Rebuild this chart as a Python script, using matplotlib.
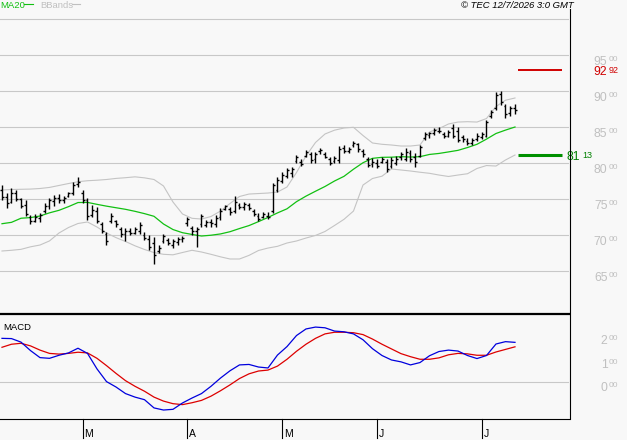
import numpy as np
import pandas as pd
import matplotlib.pyplot as plt
from matplotlib.lines import Line2D
from matplotlib.transforms import ScaledTranslation

plt.rcParams['font.family'] = ['Liberation Sans', 'DejaVu Sans']

# Trading days (Euronext calendar, Good Friday / Easter Monday / 1 May closed)
holidays = ['2026-04-03', '2026-04-06', '2026-05-01']
dates = pd.bdate_range('2026-02-05', '2026-07-10', freq='C', holidays=holidays)

# Daily OHLC
highs = [76.94, 75.83, 76.53, 76.25, 75.14, 74.86, 72.78, 72.92, 73.06, 74.44,
         75.14, 75.56, 75.69, 75.42, 75.97, 77.36, 78.06, 76.25, 75.14, 74.17,
         73.89, 71.81, 70.42, 73.06, 72.08, 71.11, 70.97, 70.97, 71.11, 71.81,
         70.42, 70.00, 69.72, 68.61, 70.14, 69.58, 69.44, 69.72, 69.86, 72.50,
         71.25, 71.11, 72.92, 72.08, 72.22, 72.78, 73.75, 74.17, 73.89, 75.42,
         74.44, 74.58, 74.44, 73.61, 73.06, 73.19, 73.19, 77.22, 78.06, 78.75,
         79.31, 79.44, 81.11, 80.56, 81.81, 81.53, 81.53, 82.08, 81.53, 80.83,
         80.97, 82.36, 82.50, 82.22, 83.06, 82.78, 81.94, 80.83, 80.69, 80.56,
         80.83, 80.56, 80.83, 80.97, 81.53, 82.08, 81.81, 81.39, 82.50, 84.31,
         84.31, 84.86, 85.00, 84.31, 84.58, 85.42, 85.00, 83.89, 83.47, 83.47,
         84.17, 84.31, 85.97, 87.36, 89.86, 90.00, 88.19, 87.92, 88.19]
lows = [74.86, 73.75, 74.44, 74.72, 73.75, 72.64, 71.53, 71.81, 71.81, 73.06,
        73.61, 74.03, 74.44, 74.44, 75.28, 75.56, 76.67, 74.44, 72.08, 72.50,
        71.67, 70.28, 68.61, 71.67, 71.11, 69.72, 69.17, 70.00, 70.14, 70.14,
        69.31, 67.92, 65.97, 67.50, 68.89, 68.61, 68.19, 68.61, 69.03, 71.25,
        70.00, 68.33, 71.11, 71.11, 71.11, 71.11, 72.08, 73.47, 72.78, 73.06,
        73.61, 73.47, 73.47, 72.64, 71.94, 72.36, 72.22, 73.06, 75.97, 77.22,
        77.92, 78.06, 80.00, 79.58, 80.83, 80.00, 80.00, 81.25, 80.69, 79.72,
        80.00, 80.00, 81.39, 81.39, 82.22, 81.53, 80.83, 79.44, 79.44, 79.31,
        80.00, 78.75, 79.31, 79.72, 80.42, 80.28, 80.14, 79.44, 80.83, 83.19,
        83.47, 83.89, 84.17, 83.47, 83.61, 83.47, 82.92, 82.92, 82.50, 82.50,
        83.06, 83.33, 83.61, 86.25, 87.36, 88.06, 86.25, 86.53, 86.81]
opens = [76.2, 75.3, 74.6, 75.8, 75.0, 74.2, 72.5, 72.0, 72.4, 73.3,
         74.0, 74.7, 75.2, 74.9, 75.4, 75.9, 77.1, 75.9, 74.9, 72.8,
         73.4, 71.5, 70.2, 72.0, 71.9, 70.8, 70.1, 70.5, 70.3, 70.6,
         70.0, 69.4, 68.9, 67.8, 69.2, 69.3, 68.6, 69.0, 69.4, 71.6,
         71.0, 70.5, 71.5, 71.4, 71.8, 71.5, 72.5, 73.6, 73.6, 73.4,
         74.2, 73.9, 74.2, 73.3, 72.6, 72.5, 72.7, 73.3, 76.3, 77.5,
         78.2, 78.6, 80.3, 80.2, 81.0, 81.2, 80.5, 81.6, 81.3, 80.6,
         80.3, 80.4, 82.1, 81.7, 82.5, 82.6, 81.7, 80.5, 79.8, 80.0,
         80.1, 80.2, 79.6, 80.0, 80.8, 80.6, 81.4, 80.8, 81.0, 83.5,
         83.9, 84.1, 84.5, 84.0, 83.8, 84.8, 84.4, 83.6, 83.1, 82.8,
         83.3, 83.6, 83.8, 86.5, 87.6, 89.6, 87.9, 87.0, 87.6]
closes = [75.3, 74.5, 75.9, 75.0, 74.0, 72.9, 72.0, 72.5, 72.8, 74.0,
          74.8, 75.2, 74.9, 75.1, 75.8, 77.0, 77.4, 74.8, 72.6, 73.5,
          72.0, 70.6, 69.2, 72.7, 71.5, 70.2, 70.6, 70.3, 70.8, 71.4,
          69.6, 68.3, 67.2, 68.2, 69.8, 68.9, 69.1, 69.4, 69.6, 72.2,
          70.5, 70.8, 72.6, 71.8, 71.6, 72.4, 73.4, 74.0, 73.2, 74.6,
          73.9, 74.3, 73.8, 72.9, 72.2, 72.9, 72.5, 76.9, 77.6, 78.4,
          79.0, 79.2, 80.8, 79.9, 81.5, 80.4, 81.2, 81.8, 80.9, 80.0,
          80.7, 82.0, 81.7, 82.0, 82.8, 81.9, 81.2, 79.7, 80.2, 79.6,
          80.5, 79.2, 80.4, 80.6, 81.2, 81.5, 80.6, 80.1, 82.2, 84.0,
          84.1, 84.6, 84.4, 83.7, 84.3, 83.8, 83.2, 83.3, 82.8, 83.2,
          83.8, 84.0, 85.7, 87.1, 89.5, 88.5, 86.8, 87.6, 87.3]

# Indicator lines, read every second session
ma20 = [71.57, 71.76, 72.33, 72.42, 72.64, 73.08, 73.43, 73.94, 74.51, 74.53,
        74.26, 74.01, 73.79, 73.57, 73.29, 72.97, 72.60, 71.53, 70.76, 70.32,
        70.08, 69.86, 69.97, 70.15, 70.46, 70.90, 71.31, 71.86, 72.44, 73.07,
        73.64, 74.63, 75.40, 76.08, 76.74, 77.50, 78.15, 79.14, 80.04, 80.65,
        80.79, 80.81, 80.88, 80.83, 80.88, 81.19, 81.33, 81.54, 81.76, 82.15,
        82.60, 83.32, 84.10, 84.57, 85.00]
bb_upper = [76.25, 76.32, 76.35, 76.38, 76.46, 76.61, 76.88, 77.15, 77.40, 77.54,
            77.61, 77.71, 77.86, 77.96, 78.08, 77.94, 77.71, 76.81, 74.58, 72.92,
            72.32, 72.22, 72.57, 73.33, 74.38, 75.35, 75.69, 75.76, 75.83, 75.97,
            76.67, 78.68, 80.97, 82.85, 84.03, 84.56, 84.86, 84.96, 83.82, 82.78,
            82.60, 82.50, 82.36, 82.36, 82.50, 84.31, 84.78, 85.42, 85.69, 85.74,
            85.69, 86.18, 87.85, 88.72, 89.03]
bb_lower = [67.78, 67.88, 68.01, 68.36, 68.61, 69.18, 70.28, 71.04, 71.60, 71.81,
            71.11, 70.28, 69.64, 69.10, 68.50, 67.99, 67.56, 67.32, 67.25, 67.57,
            67.88, 67.64, 67.32, 66.97, 66.67, 66.67, 67.17, 67.85, 68.19, 68.43,
            68.89, 69.17, 69.58, 69.94, 70.49, 71.32, 72.18, 73.33, 76.94, 77.85,
            78.17, 79.17, 79.03, 78.89, 78.72, 78.57, 78.33, 78.13, 78.33, 78.51,
            79.24, 79.65, 79.58, 80.42, 81.11]
macd = [1.87, 1.86, 1.71, 1.35, 1.05, 1.02, 1.15, 1.25, 1.45, 1.23,
        0.57, 0.03, -0.20, -0.48, -0.63, -0.74, -1.09, -1.18, -1.15, -0.88,
        -0.67, -0.48, -0.17, 0.18, 0.49, 0.74, 0.76, 0.65, 0.61, 1.16,
        1.52, 1.99, 2.27, 2.35, 2.32, 2.18, 2.15, 2.06, 1.81, 1.43,
        1.14, 0.95, 0.87, 0.74, 0.84, 1.13, 1.31, 1.37, 1.33, 1.14,
        1.01, 1.14, 1.63, 1.73, 1.70]
signal = [1.49, 1.62, 1.66, 1.55, 1.37, 1.23, 1.20, 1.23, 1.28, 1.25,
          1.02, 0.71, 0.38, 0.07, -0.17, -0.38, -0.63, -0.80, -0.91, -0.95,
          -0.87, -0.77, -0.59, -0.36, -0.11, 0.16, 0.36, 0.48, 0.52, 0.69,
          0.98, 1.32, 1.62, 1.87, 2.06, 2.13, 2.13, 2.11, 2.03, 1.84,
          1.62, 1.42, 1.22, 1.09, 0.98, 0.98, 1.04, 1.17, 1.23, 1.21,
          1.15, 1.15, 1.29, 1.40, 1.51]

resistance = 92.92
support = 81.13
price_levels = [65, 70, 75, 80, 85, 90, 95]
macd_levels = [0, 1, 2]

# colours
bg = '#f8f8f8'
grid_c = '#c8c8c8'
band_c = '#c4c4c4'
label_c = '#c0c0c0'
ma_c = '#12c012'

idx = np.arange(len(dates))
ind_idx = idx[::2]

W, H = 627, 440
fig = plt.figure(figsize=(W / 100, H / 100), dpi=100)
fig.patch.set_facecolor(bg)

def fx(px):
    return px / W

def fy(py):
    return 1 - py / H

ax = fig.add_axes([0, fy(314), fx(569), 314 / H])
ax2 = fig.add_axes([0, fy(419), fx(569), 104 / H])
for a in (ax, ax2):
    a.set_facecolor(bg)
    a.set_axis_off()
    a.set_xlim(-0.42, 119.37)
ax.set_ylim(59.03, 102.64)
ax2.set_ylim(-1.562, 2.864)

# price grid
for lv in price_levels + [100]:
    ax.axhline(lv, color=grid_c, lw=0.8, zorder=0)

# bollinger bands and MA20
ax.plot(ind_idx, bb_upper, color=band_c, lw=0.8, zorder=1)
ax.plot(ind_idx, bb_lower, color=band_c, lw=0.8, zorder=1)
ax.plot(ind_idx, ma20, color=ma_c, lw=0.9, zorder=2)

# OHLC bars
ax.vlines(idx, lows, highs, color='black', lw=1.0, zorder=3)
ax.hlines(opens, idx - 0.38, idx, color='black', lw=1.0, zorder=3)
ax.hlines(closes, idx, idx + 0.38, color='black', lw=1.0, zorder=3)

# support / resistance
ax.hlines(resistance, 108.6, 117.8, color='#d00000', lw=1.4, clip_on=False)
ax.hlines(support, 108.6, 117.8, color='#009000', lw=2.2, clip_on=False)

def shifted(a, dy_px, dx_px=0):
    return a.get_yaxis_transform() + ScaledTranslation(dx_px / 100, -dy_px / 100, fig.dpi_scale_trans)

xr = 607.5 / 569
for lv in price_levels:
    ax.text(xr, lv, f'{lv}', transform=shifted(ax, 9.5), ha='right', va='baseline',
            fontsize=8.8, color=label_c, clip_on=False)
    ax.text(xr, lv, '00', transform=shifted(ax, 5.5, 1), ha='left', va='baseline',
            fontsize=6, color=label_c, clip_on=False)

r_big, r_small = f'{resistance:.2f}'.split('.')
ax.text(xr, resistance, r_big, transform=shifted(ax, 5.5), ha='right', va='baseline',
        fontsize=8.8, color='#d00000', clip_on=False)
ax.text(xr, resistance, r_small, transform=shifted(ax, 3.5, 1), ha='left', va='baseline',
        fontsize=6.5, color='#d00000', clip_on=False)
s_big, s_small = f'{support:.2f}'.split('.')
ax.text(580 / 569, support, s_big, transform=shifted(ax, 5), ha='right', va='baseline',
        fontsize=8.8, color='#008000', clip_on=False)
ax.text(582.5 / 569, support, s_small, transform=shifted(ax, 3.5), ha='left', va='baseline',
        fontsize=6.5, color='#008000', clip_on=False)

# MACD panel
ax2.axhline(0, color=grid_c, lw=0.8, zorder=0)
ax2.plot(ind_idx, signal, color='#dd0000', lw=0.9)
ax2.plot(ind_idx, macd, color='#0000dd', lw=0.9)
for lv in macd_levels:
    ax2.text(xr, lv, f'{lv}', transform=shifted(ax2, 9), ha='right', va='baseline',
             fontsize=8.8, color=label_c, clip_on=False)
    ax2.text(xr, lv, '00', transform=shifted(ax2, 5, 1), ha='left', va='baseline',
             fontsize=6, color=label_c, clip_on=False)
fig.text(fx(3), fy(330.5), 'MACD', fontsize=6.8, color='black', va='baseline')

# month ticks under the MACD panel
month_start = [i for i in range(len(dates)) if i > 0 and dates[i].month != dates[i - 1].month]
month_letters = [dates[i].strftime('%B')[0] for i in month_start]
for i, letter in zip(month_start, month_letters):
    ax2.plot([i, i], [0, -0.18], color='black', lw=0.8,
             transform=ax2.get_xaxis_transform(), clip_on=False)
    ax2.text(i + 0.35, -0.175, letter, transform=ax2.get_xaxis_transform(),
             fontsize=7.5, va='baseline', ha='left', clip_on=False)

# frame lines
fig.add_artist(Line2D([0, fx(569)], [fy(314.5)] * 2, color='black', lw=1.6))
fig.add_artist(Line2D([0, fx(569)], [fy(419)] * 2, color='black', lw=0.8))
fig.add_artist(Line2D([fx(569.5)] * 2, [fy(9), fy(419)], color='black', lw=0.8))

# legend + stamp
fig.text(fx(0), fy(8.5), 'MA20', fontsize=6.8, color=ma_c, va='baseline')
fig.add_artist(Line2D([fx(24), fx(33)], [fy(4.5)] * 2, color=ma_c, lw=0.8))
fig.text(fx(40), fy(8.5), 'BBands', fontsize=6.8, color=label_c, va='baseline')
fig.add_artist(Line2D([fx(72), fx(80)], [fy(4.5)] * 2, color=label_c, lw=0.8))
fig.text(fx(574), fy(8.5), '© TEC 12/7/2026 3:0 GMT', fontsize=6.8, style='italic',
         ha='right', va='baseline', color='black')

fig.savefig('out.png', dpi=100, facecolor=bg)
